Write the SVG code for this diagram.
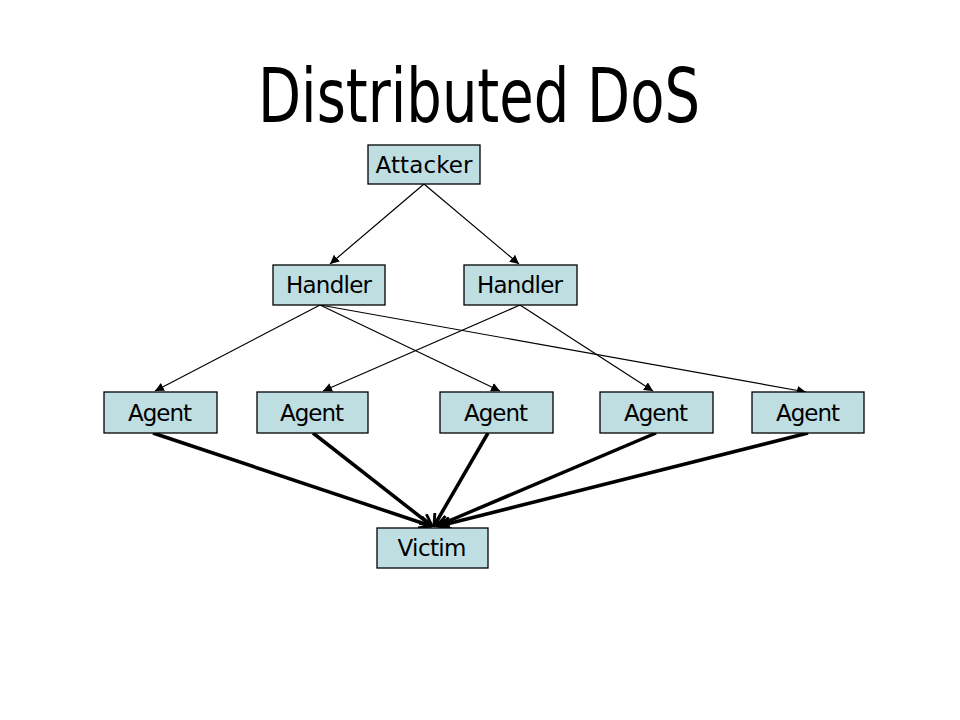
<svg xmlns="http://www.w3.org/2000/svg" width="960" height="720" viewBox="0 0 960 720">
<defs>
<style>
.box{fill:#BEDEE2;stroke:#000;stroke-width:1.3}
.lbl{font-family:"DejaVu Sans","Noto Sans",sans-serif;font-size:23px;fill:#000;text-anchor:middle}
.thin{stroke:#000;stroke-width:1.2;fill:none;marker-end:url(#tri)}
.thick{stroke:#000;stroke-width:3.5;fill:none;marker-end:url(#open)}
</style>
<marker id="tri" viewBox="0 0 10 10" refX="10" refY="5" markerWidth="9" markerHeight="9" markerUnits="userSpaceOnUse" orient="auto">
<path d="M0,0 L10,5 L0,10 Z" fill="#000"/>
</marker>
<marker id="open" viewBox="0 0 12 12" refX="11" refY="6" markerWidth="14" markerHeight="14" markerUnits="userSpaceOnUse" orient="auto">
<path d="M1,1 L11,6 L1,11" fill="none" stroke="#000" stroke-width="2.5"/>
</marker>
</defs>
<rect width="960" height="720" fill="#fff"/>
<text x="479" y="122" font-family="DejaVu Sans, sans-serif" font-size="74" text-anchor="middle" textLength="442" lengthAdjust="spacingAndGlyphs">Distributed DoS</text>
<g id="connectors">
<line class="thin" x1="424" y1="184" x2="330" y2="264"/>
<line class="thin" x1="424" y1="184" x2="519" y2="264"/>
<line class="thin" x1="320" y1="305" x2="155" y2="391"/>
<line class="thin" x1="320" y1="305" x2="500" y2="391"/>
<line class="thin" x1="320" y1="305" x2="806" y2="392"/>
<line class="thin" x1="520" y1="305" x2="323" y2="391"/>
<line class="thin" x1="520" y1="305" x2="653" y2="391"/>
<line class="thick" x1="153" y1="433" x2="431" y2="526"/>
<line class="thick" x1="313" y1="433" x2="432" y2="526"/>
<line class="thick" x1="488" y1="433" x2="434" y2="526"/>
<line class="thick" x1="656" y1="433" x2="437" y2="526"/>
<line class="thick" x1="808" y1="433" x2="439" y2="526"/>
</g>
<g id="attacker"><rect class="box" x="368" y="145" width="112" height="39"/><text class="lbl" x="424" y="173" textLength="97">Attacker</text></g>
<g id="handler1"><rect class="box" x="273" y="265" width="112" height="40"/><text class="lbl" x="329" y="293" textLength="86">Handler</text></g>
<g id="handler2"><rect class="box" x="464" y="265" width="113" height="40"/><text class="lbl" x="520" y="293" textLength="86">Handler</text></g>
<g id="agent1"><rect class="box" x="104" y="392" width="113" height="41"/><text class="lbl" x="160" y="421" textLength="64">Agent</text></g>
<g id="agent2"><rect class="box" x="257" y="392" width="111" height="41"/><text class="lbl" x="312" y="421" textLength="64">Agent</text></g>
<g id="agent3"><rect class="box" x="440" y="392" width="113" height="41"/><text class="lbl" x="496" y="421" textLength="64">Agent</text></g>
<g id="agent4"><rect class="box" x="600" y="392" width="113" height="41"/><text class="lbl" x="656" y="421" textLength="64">Agent</text></g>
<g id="agent5"><rect class="box" x="752" y="392" width="112" height="41"/><text class="lbl" x="808" y="421" textLength="64">Agent</text></g>
<g id="victim"><rect class="box" x="377" y="528" width="111" height="40"/><text class="lbl" x="432" y="556" textLength="69">Victim</text></g>
</svg>
